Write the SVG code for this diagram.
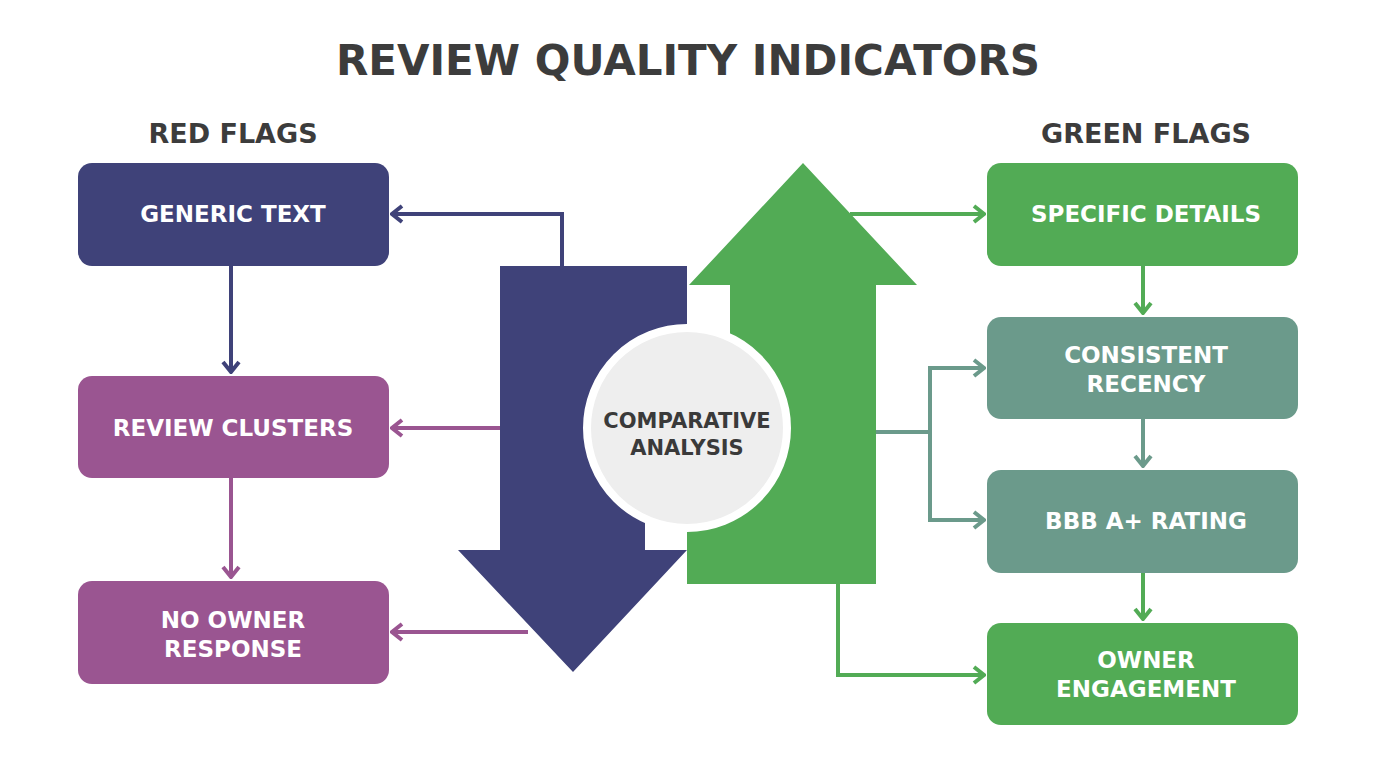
<svg xmlns="http://www.w3.org/2000/svg" width="1376" height="768" viewBox="0 0 1376 768">
<defs>
<style>
.t{font-family:"DejaVu Sans","Open Sans",sans-serif;font-weight:700;text-anchor:middle;dominant-baseline:central}
.title{font-size:42px;fill:#3c3c3c}
.head{font-size:27px;fill:#3c3c3c}
.lbl{font-size:23px;fill:#ffffff}
.ctr{font-size:21px;fill:#3a3a3a}
.ln{fill:none;stroke-width:4;stroke-linejoin:miter}
.navy{stroke:#3f4279}
.purp{stroke:#9a5591}
.grn{stroke:#52ab55}
.teal{stroke:#6b9a8b}
</style>
<marker id="mN" viewBox="0 0 14 20" refX="12" refY="10" markerWidth="14" markerHeight="20" markerUnits="userSpaceOnUse" orient="auto"><path d="M2,2 L12,10 L2,18" fill="none" stroke="#3f4279" stroke-width="4"/></marker>
<marker id="mP" viewBox="0 0 14 20" refX="12" refY="10" markerWidth="14" markerHeight="20" markerUnits="userSpaceOnUse" orient="auto"><path d="M2,2 L12,10 L2,18" fill="none" stroke="#9a5591" stroke-width="4"/></marker>
<marker id="mG" viewBox="0 0 14 20" refX="12" refY="10" markerWidth="14" markerHeight="20" markerUnits="userSpaceOnUse" orient="auto"><path d="M2,2 L12,10 L2,18" fill="none" stroke="#52ab55" stroke-width="4"/></marker>
<marker id="mT" viewBox="0 0 14 20" refX="12" refY="10" markerWidth="14" markerHeight="20" markerUnits="userSpaceOnUse" orient="auto"><path d="M2,2 L12,10 L2,18" fill="none" stroke="#6b9a8b" stroke-width="4"/></marker>
</defs>
<rect width="1376" height="768" fill="#ffffff"/>
<text class="t title" x="688" y="60">REVIEW QUALITY INDICATORS</text>
<text class="t head" x="233" y="133">RED FLAGS</text>
<text class="t head" x="1146" y="133">GREEN FLAGS</text>

<g id="connectors">
<path class="ln navy" d="M231,266 V372" marker-end="url(#mN)"/>
<path class="ln purp" d="M231,478 V577" marker-end="url(#mP)"/>
<path class="ln navy" d="M562,268 V214 H392" marker-end="url(#mN)"/>
<path class="ln purp" d="M502,428 H392" marker-end="url(#mP)"/>
<path class="ln purp" d="M528,632 H392" marker-end="url(#mP)"/>
<path class="ln grn" d="M1143,266 V313" marker-end="url(#mG)"/>
<path class="ln teal" d="M1143,419 V466" marker-end="url(#mT)"/>
<path class="ln grn" d="M1143,573 V619" marker-end="url(#mG)"/>
<path class="ln grn" d="M850,214 H984" marker-end="url(#mG)"/>
<path class="ln teal" d="M874,432 H930"/>
<path class="ln teal" d="M984,368 H930 V520 H984" marker-end="url(#mT)"/>
<path class="ln teal" d="M930,368 H984" marker-end="url(#mT)"/>
<path class="ln grn" d="M838,582 V675 H984" marker-end="url(#mG)"/>
</g>

<g id="red-arrow">
<polygon points="500,266 687,266 687,427 645,427 645,550 687,550 573,672 458,550 500,550" fill="#3f4279"/>
</g>
<g id="green-arrow">
<polygon points="803,163 917,285 876,285 876,584 687,584 687,427 730,427 730,285 689,285" fill="#52ab55"/>
</g>
<g id="comparative-analysis">
<circle cx="687" cy="428" r="100" fill="#eeeeee" stroke="#ffffff" stroke-width="8"/>
<text class="t ctr" x="687" y="421">COMPARATIVE</text>
<text class="t ctr" x="687" y="448">ANALYSIS</text>
</g>

<g id="generic-text">
<rect x="78" y="163" width="311" height="103" rx="14" fill="#3f4279"/>
<text class="t lbl" x="233" y="214">GENERIC TEXT</text>
</g>
<g id="review-clusters">
<rect x="78" y="376" width="311" height="102" rx="14" fill="#9a5591"/>
<text class="t lbl" x="233" y="428">REVIEW CLUSTERS</text>
</g>
<g id="no-owner-response">
<rect x="78" y="581" width="311" height="103" rx="14" fill="#9a5591"/>
<text class="t lbl" x="233" y="620">NO OWNER</text>
<text class="t lbl" x="233" y="649">RESPONSE</text>
</g>

<g id="specific-details">
<rect x="987" y="163" width="311" height="103" rx="14" fill="#52ab55"/>
<text class="t lbl" x="1146" y="214">SPECIFIC DETAILS</text>
</g>
<g id="consistent-recency">
<rect x="987" y="317" width="311" height="102" rx="14" fill="#6b9a8b"/>
<text class="t lbl" x="1146" y="355">CONSISTENT</text>
<text class="t lbl" x="1146" y="384">RECENCY</text>
</g>
<g id="bbb-rating">
<rect x="987" y="470" width="311" height="103" rx="14" fill="#6b9a8b"/>
<text class="t lbl" x="1146" y="521">BBB A+ RATING</text>
</g>
<g id="owner-engagement">
<rect x="987" y="623" width="311" height="102" rx="14" fill="#52ab55"/>
<text class="t lbl" x="1146" y="660">OWNER</text>
<text class="t lbl" x="1146" y="689">ENGAGEMENT</text>
</g>
</svg>
